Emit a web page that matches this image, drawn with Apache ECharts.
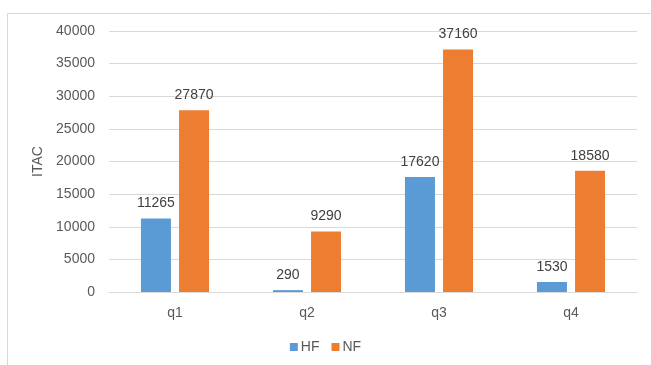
<!DOCTYPE html>
<html>
<head>
<meta charset="utf-8">
<script src="https://cdn.jsdelivr.net/npm/echarts@6/dist/echarts.min.js"></script>
<style>
  html, body { margin: 0; padding: 0; background: #fff; }
  #chart { width: 651px; height: 365px; }
</style>
</head>
<body>
<div id="chart"></div>
<script>
// quarters and the two series
const categories = ['q1', 'q2', 'q3', 'q4'];
const hfValues = [11265, 290, 17620, 1530];
const nfValues = [27870, 9290, 37160, 18580];

const textColor = '#595959';
const fontFamily = 'Liberation Sans, Arial, sans-serif';

const myChart = echarts.init(document.getElementById('chart'));

const option = {
  animation: false,
  textStyle: { fontFamily: fontFamily },
  graphic: [
    {
      // chart area border (cut off at right and bottom)
      type: 'rect',
      shape: { x: 7.5, y: 13.5, width: 700, height: 400 },
      style: { fill: 'none', stroke: '#d9d9d9', lineWidth: 1 },
      silent: true,
    },
  ],
  grid: {
    left: 109,
    right: 14,
    top: 31,
    bottom: 73,
  },
  legend: {
    data: ['HF', 'NF'],
    bottom: 6,
    left: 'center',
    icon: 'rect',
    itemWidth: 8,
    itemHeight: 8,
    itemGap: 12,
    selectedMode: false,
    textStyle: { color: textColor, fontSize: 14, fontFamily: fontFamily, padding: [0, 0, 0, -2] },
  },
  xAxis: {
    type: 'category',
    data: categories,
    axisLine: { lineStyle: { color: '#d9d9d9' } },
    axisTick: { show: false },
    axisLabel: { color: textColor, fontSize: 14, margin: 14 },
  },
  yAxis: {
    type: 'value',
    min: 0,
    max: 40000,
    interval: 5000,
    name: 'ITAC',
    nameLocation: 'middle',
    nameRotate: 90,
    nameGap: 57,
    nameTextStyle: { color: textColor, fontSize: 14 },
    axisLine: { show: false },
    axisTick: { show: false },
    axisLabel: { color: textColor, fontSize: 14, margin: 14, formatter: v => String(v) },
    splitLine: { lineStyle: { color: '#d9d9d9' } },
  },
  series: [
    {
      name: 'HF',
      type: 'bar',
      data: hfValues,
      barWidth: 30,
      barGap: '27%',
      itemStyle: { color: '#5b9bd5' },
      label: { show: true, position: 'top', distance: 8, color: '#404040', fontSize: 14 },
    },
    {
      name: 'NF',
      type: 'bar',
      data: nfValues,
      barWidth: 30,
      itemStyle: { color: '#ed7d31' },
      label: { show: true, position: 'top', distance: 8, color: '#404040', fontSize: 14 },
    },
  ],
};

myChart.setOption(option);
</script>
</body>
</html>
